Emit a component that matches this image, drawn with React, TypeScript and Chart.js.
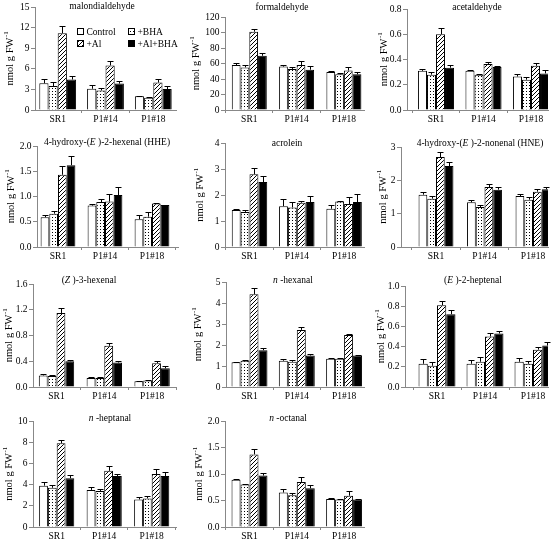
import React, { useEffect, useRef } from 'react';
import { Chart, registerables } from 'chart.js';

Chart.register(...registerables);

const W = 558;
const H = 541;
const FONT = "'Liberation Serif', 'Times New Roman', serif";
const YW = 30; // fixed y-scale width
const XH = 16; // fixed x-scale height

// ---------- data ----------
const groupLabels = ['SR1', 'P1#14', 'P1#18'];
const treatmentLabels = ['Control', '+BHA', '+Al', '+Al+BHA'];
const yAxisLabel = 'nmol g FW';
const yAxisSup = '-1';

// rows: Control, +BHA, +Al, +Al+BHA ; columns: SR1, P1#14, P1#18
const malondialdehydeMean = [[3.9, 3.1, 2.0], [3.5, 2.85, 1.8], [11.2, 6.5, 4.0], [4.45, 3.85, 3.05]];
const malondialdehydeErr = [[0.6, 0.55, 0.1], [0.55, 0.4, 0.12], [1.1, 0.65, 0.5], [0.5, 0.45, 0.5]];
const malondialdehydeTicks = ['0', '3', '6', '9', '12', '15'];

const formaldehydeMean = [[58, 56, 49], [55, 53, 46], [101, 58, 51], [70, 52, 46]];
const formaldehydeErr = [[3, 2, 1], [3, 2, 2], [4, 5, 4], [3, 5, 3]];
const formaldehydeTicks = ['0', '20', '40', '60', '80', '100', '120'];

const acetaldehydeMean = [[0.31, 0.31, 0.265], [0.28, 0.28, 0.24], [0.6, 0.365, 0.35], [0.335, 0.34, 0.29]];
const acetaldehydeErr = [[0.015, 0.003, 0.02], [0.02, 0.005, 0.02], [0.05, 0.015, 0.025], [0.025, 0.005, 0.03]];
const acetaldehydeTicks = ['0.0', '0.2', '0.4', '0.6', '0.8'];

const hheMean = [[0.59, 0.82, 0.55], [0.66, 0.89, 0.6], [1.43, 0.9, 0.86], [1.62, 1.03, 0.83]];
const hheErr = [[0.05, 0.04, 0.08], [0.06, 0.06, 0.09], [0.17, 0.15, 0.02], [0.18, 0.16, 0.005]];
const hheTicks = ['0.0', '0.5', '1.0', '1.5', '2.0'];

const acroleinMean = [[1.42, 1.57, 1.47], [1.35, 1.52, 1.75], [2.8, 1.7, 1.65], [2.5, 1.73, 1.73]];
const acroleinErr = [[0.06, 0.27, 0.16], [0.07, 0.23, 0.02], [0.22, 0.08, 0.27], [0.22, 0.22, 0.3]];
const acroleinTicks = ['0', '1', '2', '3', '4'];

const hneMean = [[1.57, 1.34, 1.53], [1.45, 1.2, 1.42], [2.7, 1.8, 1.66], [2.43, 1.72, 1.73]];
const hneErr = [[0.07, 0.06, 0.06], [0.07, 0.06, 0.07], [0.14, 0.08, 0.08], [0.12, 0.07, 0.07]];
const hneTicks = ['0', '1', '2', '3'];

const hexenalMean = [[0.18, 0.14, 0.09], [0.17, 0.14, 0.1], [1.15, 0.64, 0.37], [0.4, 0.38, 0.29]];
const hexenalErr = [[0.02, 0.01, 0.01], [0.02, 0.01, 0.01], [0.08, 0.04, 0.04], [0.02, 0.02, 0.04]];
const hexenalTicks = ['0.0', '0.4', '0.8', '1.2', '1.6'];

const hexanalMean = [[1.18, 1.25, 1.35], [1.25, 1.2, 1.35], [4.42, 2.72, 2.48], [1.75, 1.5, 1.5]];
const hexanalErr = [[0.02, 0.1, 0.02], [0.03, 0.07, 0.02], [0.3, 0.12, 0.05], [0.09, 0.05, 0.02]];
const hexanalTicks = ['0', '1', '2', '3', '4', '5'];

const heptenalMean = [[0.23, 0.23, 0.25], [0.21, 0.25, 0.23], [0.81, 0.5, 0.37], [0.72, 0.53, 0.41]];
const heptenalErr = [[0.05, 0.04, 0.04], [0.04, 0.05, 0.03], [0.04, 0.03, 0.03], [0.04, 0.02, 0.04]];
const heptenalTicks = ['0.0', '0.2', '0.4', '0.6', '0.8', '1.0'];

const heptanalMean = [[3.9, 3.5, 2.6], [3.7, 3.4, 2.7], [7.9, 5.3, 5.0], [4.6, 4.8, 4.8]];
const heptanalErr = [[0.3, 0.3, 0.2], [0.3, 0.2, 0.2], [0.3, 0.5, 0.5], [0.3, 0.2, 0.4]];
const heptanalTicks = ['0', '2', '4', '6', '8', '10'];

const octanalMean = [[0.89, 0.65, 0.53], [0.8, 0.6, 0.52], [1.37, 0.85, 0.59], [0.97, 0.73, 0.52]];
const octanalErr = [[0.01, 0.07, 0.02], [0.01, 0.05, 0.01], [0.1, 0.09, 0.09], [0.05, 0.06, 0.01]];
const octanalTicks = ['0.0', '0.5', '1.0', '1.5', '2.0'];

// ---------- panel definitions (layout kept separate from data) ----------
type Seg = { t: string; i?: boolean };
type Layout = {
  axisX: number; rightX: number; top: number; bottom: number;
  c0: number; s: number; cat: number;
  titleX: number; titleY: number; yTitleX: number;
};
type Panel = { title: Seg[]; mean: number[][]; err: number[][]; ticks: string[]; layout: Layout; legend?: boolean };

const panels: Panel[] = [
  { title: [{ t: 'malondialdehyde' }], mean: malondialdehydeMean, err: malondialdehydeErr, ticks: malondialdehydeTicks, legend: true,
    layout: { axisX: 35, rightX: 176, top: 5, bottom: 110, c0: 57.7, s: 47.8, cat: 0.77, titleX: 102, titleY: 6, yTitleX: 10 } },
  { title: [{ t: 'formaldehyde' }], mean: formaldehydeMean, err: formaldehydeErr, ticks: formaldehydeTicks,
    layout: { axisX: 225, rightX: 364, top: 17, bottom: 110, c0: 249.3, s: 47.3, cat: 0.74, titleX: 282, titleY: 7, yTitleX: 196 } },
  { title: [{ t: 'acetaldehyde' }], mean: acetaldehydeMean, err: acetaldehydeErr, ticks: acetaldehydeTicks,
    layout: { axisX: 407, rightX: 548, top: 9, bottom: 110, c0: 436, s: 47.5, cat: 0.76, titleX: 477, titleY: 7, yTitleX: 384 } },
  { title: [{ t: '4-hydroxy-(' }, { t: 'E', i: true }, { t: ' )-2-hexenal (HHE)' }], mean: hheMean, err: hheErr, ticks: hheTicks,
    layout: { axisX: 37, rightX: 178, top: 146, bottom: 247, c0: 58, s: 47, cat: 0.74, titleX: 107, titleY: 142, yTitleX: 11 } },
  { title: [{ t: 'acrolein' }], mean: acroleinMean, err: acroleinErr, ticks: acroleinTicks,
    layout: { axisX: 225, rightX: 364, top: 143, bottom: 247, c0: 249.5, s: 47.3, cat: 0.75, titleX: 287, titleY: 143, yTitleX: 200 } },
  { title: [{ t: '4-hydroxy-(' }, { t: 'E', i: true }, { t: ' )-2-nonenal (HNE)' }], mean: hneMean, err: hneErr, ticks: hneTicks,
    layout: { axisX: 401, rightX: 548, top: 147, bottom: 247, c0: 436, s: 48.5, cat: 0.72, titleX: 480, titleY: 143, yTitleX: 383 } },
  { title: [{ t: '(' }, { t: 'Z', i: true }, { t: ' )-3-hexenal' }], mean: hexenalMean, err: hexenalErr, ticks: hexenalTicks,
    layout: { axisX: 33, rightX: 176, top: 284, bottom: 387, c0: 56.5, s: 47.8, cat: 0.74, titleX: 89, titleY: 280, yTitleX: 9 } },
  { title: [{ t: 'n', i: true }, { t: ' -hexanal' }], mean: hexanalMean, err: hexanalErr, ticks: hexanalTicks,
    layout: { axisX: 226, rightX: 364, top: 282, bottom: 387, c0: 249.5, s: 47.3, cat: 0.76, titleX: 293, titleY: 280, yTitleX: 198 } },
  { title: [{ t: '(' }, { t: 'E', i: true }, { t: ' )-2-heptenal' }], mean: heptenalMean, err: heptenalErr, ticks: heptenalTicks,
    layout: { axisX: 405, rightX: 548, top: 286, bottom: 387, c0: 437, s: 48, cat: 0.77, titleX: 473, titleY: 280, yTitleX: 381 } },
  { title: [{ t: 'n', i: true }, { t: ' -heptanal' }], mean: heptanalMean, err: heptanalErr, ticks: heptanalTicks,
    layout: { axisX: 33, rightX: 176, top: 421, bottom: 527, c0: 56.7, s: 47.5, cat: 0.74, titleX: 110, titleY: 418, yTitleX: 9 } },
  { title: [{ t: 'n', i: true }, { t: ' -octanal' }], mean: octanalMean, err: octanalErr, ticks: octanalTicks,
    layout: { axisX: 225, rightX: 364, top: 421, bottom: 527, c0: 249.5, s: 47.3, cat: 0.76, titleX: 288, titleY: 418, yTitleX: 199 } },
];

// ---------- fills ----------
function makeDots(): CanvasPattern | string {
  const c = document.createElement('canvas');
  c.width = 3; c.height = 3;
  const g = c.getContext('2d');
  if (!g) return '#ccc';
  g.fillStyle = '#fff'; g.fillRect(0, 0, 3, 3);
  g.fillStyle = '#000'; g.fillRect(1, 1, 1, 1);
  return g.createPattern(c, 'repeat') || '#ccc';
}
function makeHatch(): CanvasPattern | string {
  const c = document.createElement('canvas');
  c.width = 4; c.height = 4;
  const g = c.getContext('2d');
  if (!g) return '#888';
  g.fillStyle = '#fff'; g.fillRect(0, 0, 4, 4);
  g.fillStyle = '#000';
  for (let i = 0; i < 4; i++) g.fillRect(i, 3 - i, 1, 1);
  return g.createPattern(c, 'repeat') || '#888';
}

function decoPlugin(p: Panel, fills: any[]) {
  const L = p.layout;
  return {
    id: 'deco',
    afterDatasetsDraw(chart: any) {
      const ctx = chart.ctx;
      const ys = chart.scales.y;
      ctx.save();
      ctx.strokeStyle = '#000';
      ctx.lineWidth = 1;
      chart.data.datasets.forEach((ds: any, di: number) => {
        const meta = chart.getDatasetMeta(di);
        meta.data.forEach((bar: any, i: number) => {
          const v = ds.data[i].y;
          const e = p.err[di][i];
          const yt = Math.round(ys.getPixelForValue(v + e)) + 0.5;
          const x = Math.round(bar.x) + 0.5;
          ctx.beginPath();
          ctx.moveTo(x, bar.y);
          ctx.lineTo(x, yt);
          ctx.moveTo(x - 3, yt);
          ctx.lineTo(x + 3, yt);
          ctx.stroke();
        });
      });
      ctx.restore();
    },
    afterDraw(chart: any) {
      const ctx = chart.ctx;
      ctx.save();
      ctx.fillStyle = '#000';
      // title with italic segments
      const tsize = 9.5;
      let total = 0;
      const widths = p.title.map((sg) => {
        ctx.font = `${sg.i ? 'italic ' : ''}${tsize}px ${FONT}`;
        const w = ctx.measureText(sg.t).width;
        total += w;
        return w;
      });
      let x = L.titleX - total / 2;
      ctx.textBaseline = 'middle';
      ctx.textAlign = 'left';
      p.title.forEach((sg, k) => {
        ctx.font = `${sg.i ? 'italic ' : ''}${tsize}px ${FONT}`;
        ctx.fillText(sg.t, x, L.titleY);
        x += widths[k];
      });
      // y axis title with superscript
      const ca = chart.chartArea;
      const cy = (ca.top + ca.bottom) / 2;
      ctx.save();
      ctx.translate(L.yTitleX, cy);
      ctx.rotate(-Math.PI / 2);
      ctx.font = `10.5px ${FONT}`;
      const w1 = ctx.measureText(yAxisLabel).width;
      ctx.font = `7px ${FONT}`;
      const w2 = ctx.measureText(yAxisSup).width;
      let sx = -(w1 + w2) / 2;
      ctx.textBaseline = 'middle';
      ctx.font = `10.5px ${FONT}`;
      ctx.fillText(yAxisLabel, sx, 0);
      sx += w1 + 0.5;
      ctx.font = `7px ${FONT}`;
      ctx.fillText(yAxisSup, sx, -3.5);
      ctx.restore();
      // legend
      if (p.legend) {
        const pos = [[77.5, 28.5], [128.5, 28.5], [77.5, 40.5], [128.5, 40.5]];
        ctx.font = `9.5px ${FONT}`;
        ctx.textBaseline = 'middle';
        treatmentLabels.forEach((lab, k) => {
          const [bx, by] = pos[k];
          ctx.fillStyle = fills[k];
          ctx.fillRect(bx, by, 6, 6);
          ctx.strokeStyle = '#000';
          ctx.lineWidth = 1;
          ctx.strokeRect(bx, by, 6, 6);
          ctx.fillStyle = '#000';
          ctx.fillText(lab, bx + 9, by + 3.5);
        });
      }
      ctx.restore();
    },
  };
}

export default function App() {
  const refs = useRef<(HTMLCanvasElement | null)[]>([]);

  useEffect(() => {
    Chart.defaults.font.family = FONT;
    const fills = ['#ffffff', makeDots(), makeHatch(), '#000000'];
    const charts = panels.map((p, k) => {
      const cv = refs.current[k] as HTMLCanvasElement;
      const L = p.layout;
      const tickVals = p.ticks.map(Number);
      const xMin = (L.axisX - L.c0) / L.s;
      const xMax = (L.rightX - L.c0) / L.s;
      return new Chart(cv, {
        type: 'bar',
        data: {
          datasets: p.mean.map((row, di) => ({
            label: treatmentLabels[di],
            data: row.map((v, i) => ({ x: i, y: v })),
            backgroundColor: fills[di],
            borderColor: '#000',
            borderWidth: 1,
            categoryPercentage: L.cat,
            barPercentage: 1,
          })),
        },
        options: {
          responsive: false,
          animation: false,
          devicePixelRatio: 1,
          events: [],
          layout: { padding: { left: L.axisX - YW, right: W - L.rightX, top: L.top, bottom: H - L.bottom - XH } },
          plugins: { legend: { display: false }, tooltip: { enabled: false }, title: { display: false } },
          scales: {
            x: {
              type: 'linear',
              offset: false,
              min: xMin,
              max: xMax,
              afterBuildTicks: (s: any) => { s.ticks = groupLabels.map((_, i) => ({ value: i })); },
              afterFit: (s: any) => { s.height = XH; },
              ticks: {
                callback: (_v: any, i: number) => groupLabels[i],
                font: { family: FONT, size: 9.5 },
                color: '#000',
                padding: 1,
                maxRotation: 0,
                autoSkip: false,
              },
              grid: { offset: true, drawOnChartArea: false, tickLength: 3, color: '#888' },
              border: { color: '#888' },
            },
            y: {
              min: tickVals[0],
              max: tickVals[tickVals.length - 1],
              afterBuildTicks: (s: any) => { s.ticks = tickVals.map((v) => ({ value: v })); },
              afterFit: (s: any) => { s.width = YW; },
              ticks: {
                callback: (_v: any, i: number) => p.ticks[i],
                font: { family: FONT, size: 9.5 },
                color: '#000',
                padding: 1.5,
                autoSkip: false,
              },
              grid: { drawOnChartArea: false, tickLength: 4, color: '#888' },
              border: { color: '#888' },
            },
          },
        } as any,
        plugins: [decoPlugin(p, fills)],
      });
    });
    return () => charts.forEach((c) => c.destroy());
  }, []);

  return (
    <div style={{ position: 'absolute', left: 0, top: 0, width: W, height: H, background: '#fff', overflow: 'hidden' }}>
      {panels.map((_, k) => (
        <canvas
          key={k}
          ref={(el) => { refs.current[k] = el; }}
          width={W}
          height={H}
          style={{ position: 'absolute', left: 0, top: 0, width: W, height: H }}
        />
      ))}
    </div>
  );
}
